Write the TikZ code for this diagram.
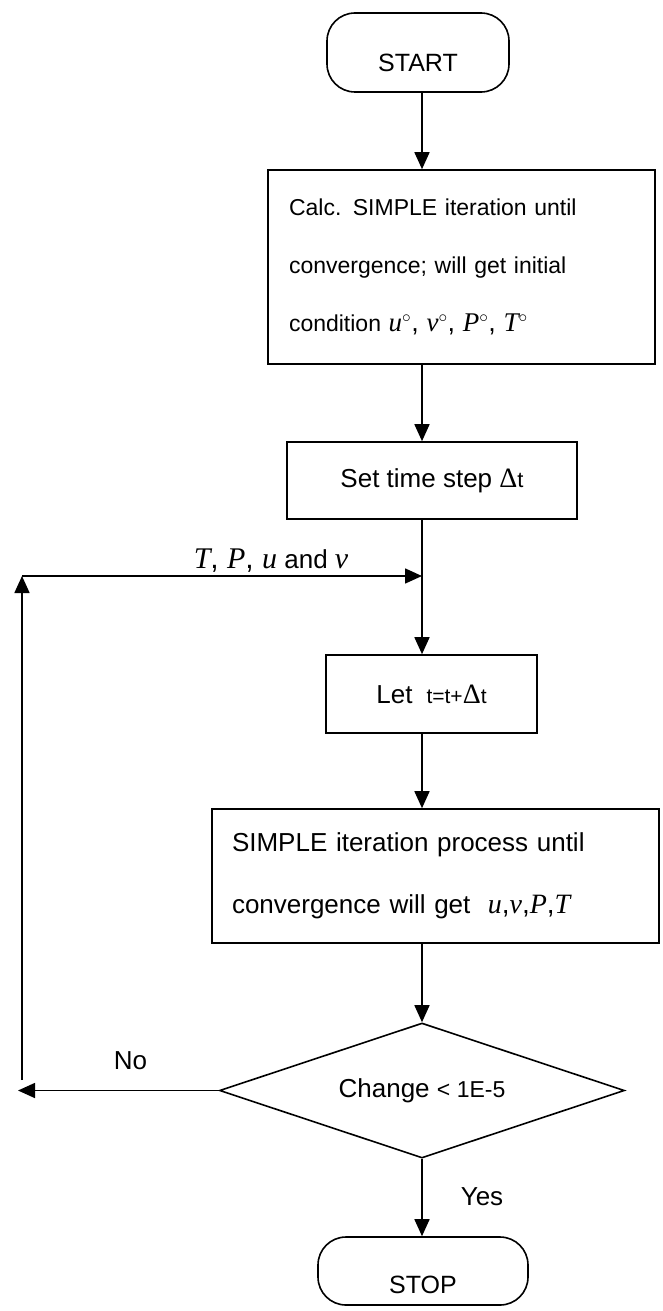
\documentclass[tikz,border=0pt]{standalone}
\usepackage{fontspec}
\setmainfont{Liberation Sans}
\newfontfamily\tm{Liberation Serif}
\usetikzlibrary{arrows.meta,shapes.geometric}
\newcommand\myfs[2]{\fontsize{#1}{#2}\selectfont}
\newcommand\mi[1]{{\tm\itshape #1}}
\newcommand\dg{\ensuremath{^{\circ}}}
\begin{document}
\begin{tikzpicture}[x=1pt,y=-1pt, line width=1.6pt,
  box/.style={draw, rectangle, inner sep=0pt},
  term/.style={draw, rectangle, rounded corners=28pt, inner sep=0pt, font=\myfs{25}{30}, text depth=0pt},
  arr/.style={-{Triangle[length=17pt,width=15pt]}},
  lbl/.style={inner sep=0pt, font=\myfs{26}{31}}]
\useasboundingbox (0,0) rectangle (662,1311);
\coordinate (spine) at (422,0);
\node[term, minimum width=182pt, minimum height=79pt, text height=38pt] (start) at (418,52.5) {START};
\node[box, minimum width=387pt, minimum height=194pt, text width=345pt, align=left, font=\myfs{23}{58}] (b1) at (461.5,267)
  {Calc. SIMPLE iteration until\\convergence; will get initial\\condition {\myfs{27}{58}\mi{u}\dg, \mi{v}\dg, \mi{P}\dg, \mi{T}\dg}};
\node[box, minimum width=290pt, minimum height=77pt, font=\myfs{26}{31}] (b2) at (432,480.5)
  {Set time step {\myfs{28}{31}\tm Δ}{\myfs{22}{26}t}};
\node[box, minimum width=211pt, minimum height=78pt, font=\myfs{26}{31}] (b3) at (431.5,694)
  {Let\hspace{14pt}{\myfs{21}{24}t=t+{\myfs{28}{30}\tm Δ}t}};
\node[box, minimum width=447pt, minimum height=134pt, text width=407pt, align=left, font=\myfs{26}{62}] (b4) at (435.5,876)
  {SIMPLE iteration process until\\convergence will get \ {\myfs{28}{62}\mi{u},\mi{v},\mi{P},\mi{T}}};
\node[draw, diamond, shape aspect=3, minimum width=405pt, minimum height=135pt, inner sep=0pt, font=\myfs{26}{31}] (dia) at (422,1090.5)
  {Change {\myfs{23}{25}< 1E-5}};
\node[term, minimum width=210pt, minimum height=68pt, text height=44pt] (stop) at (423,1271) {STOP};
\coordinate (j) at (422,576);
\coordinate (fbt) at (22,576);
\coordinate (fbb) at (22,1080);
\coordinate (noend) at (18,1090.5);
\draw[arr] (start.south -| spine) -- (b1.north -| spine);
\draw[arr] (b1.south -| spine) -- (b2.north -| spine);
\draw[arr] (b2.south -| spine) -- (b3.north -| spine);
\draw[arr] (b3.south -| spine) -- (b4.north -| spine);
\draw[arr] (b4.south -| spine) -- (dia.north);
\draw[arr] (dia.south) -- (stop.north -| spine);
\draw[arr] (dia.west) -- (noend);
\draw[arr] (fbb) -- (fbt);
\draw[arr] (fbt) -- (j);
\node[lbl, anchor=base west] (lab) at (193,568) {{\myfs{30}{31}\mi{T}, \mi{P}, \mi{u}} and {\myfs{30}{31}\mi{v}}};
\node[lbl, anchor=base west] (no) at (113,1069) {No};
\node[lbl, anchor=base west] (yes) at (460,1205) {Yes};
\end{tikzpicture}
\end{document}
